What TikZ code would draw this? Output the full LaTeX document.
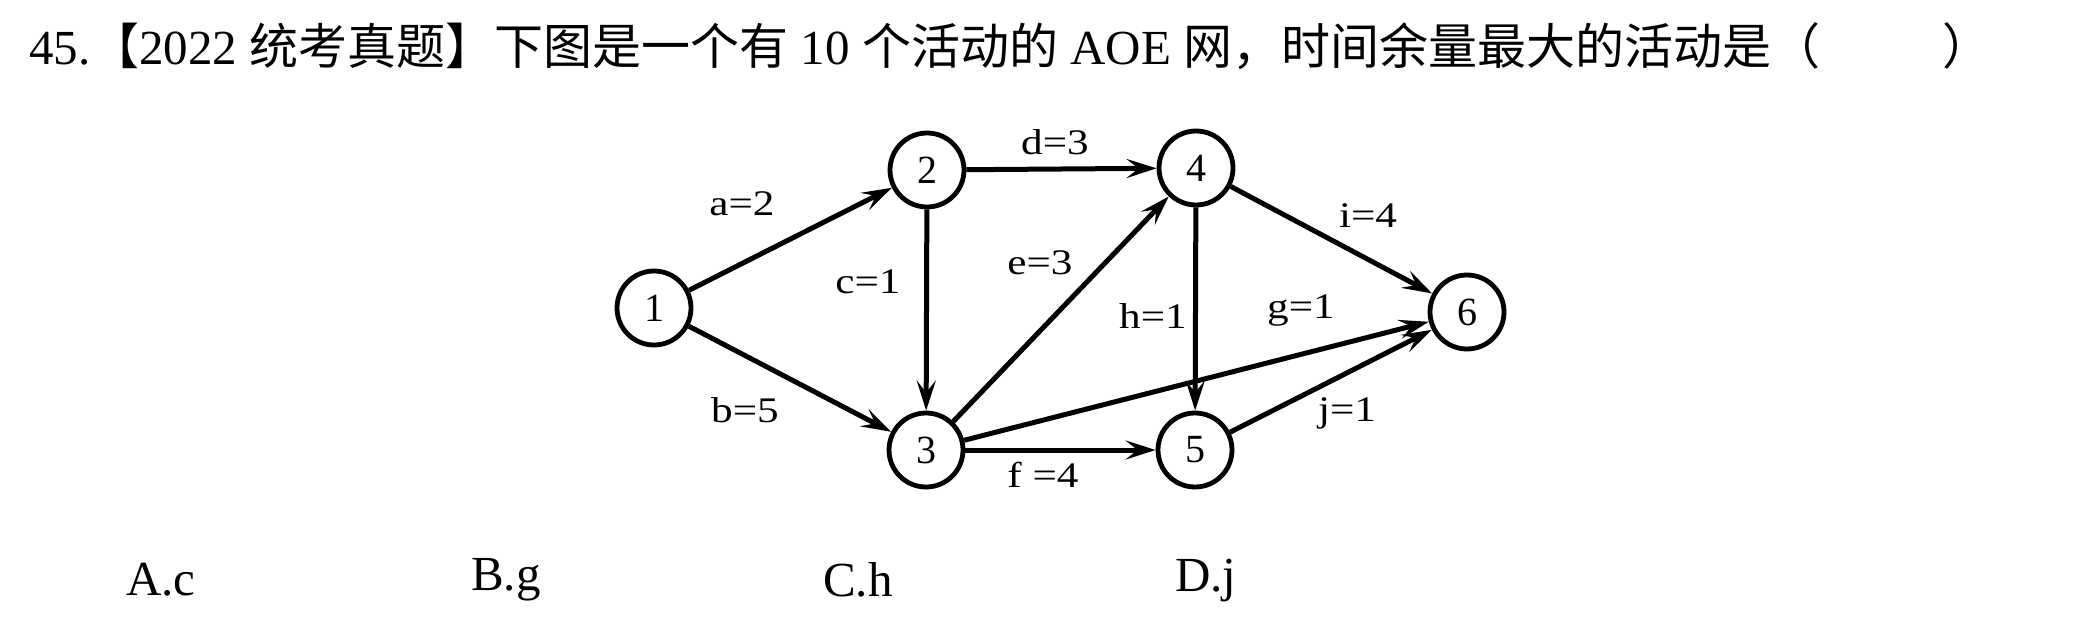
\documentclass[tikz,border=0pt]{standalone}
\usepackage{fontspec}
\usepackage{graphicx}
\setmainfont{Liberation Serif}
\newfontfamily\cjk{Noto Sans CJK SC}
\usetikzlibrary{arrows.meta}
\newcommand\widetxt[1]{\scalebox{1.2}[1]{#1}}
\begin{document}
\begin{tikzpicture}[x=1pt,y=-1pt,
  vert/.style={circle,draw,line width=4.8pt,minimum size=74pt,inner sep=0pt,font=\fontsize{40}{40}\selectfont},
  edge/.style={line width=5pt,-{Stealth[length=30pt,width=19pt,inset=12pt]}},
  lab/.style={font=\fontsize{36}{36}\selectfont,inner sep=0pt},
  txt/.style={font=\fontsize{49}{49}\selectfont,inner sep=0pt,anchor=west}]
\useasboundingbox (0,0) rectangle (2081,623);
\node[txt] (title) at (29,46) {45.{\cjk 【}2022 {\cjk 统考真题】下图是一个有} 10 {\cjk 个活动的} AOE {\cjk 网，时间余量最大的活动是（}\hspace{2.5em}{\cjk ）}};
\node[vert] (n1) at (654,308) {1};
\node[vert] (n2) at (927,170) {2};
\node[vert] (n3) at (926,450) {3};
\node[vert] (n4) at (1196,168) {4};
\node[vert] (n5) at (1195,450) {5};
\node[vert] (n6) at (1467,312) {6};
\draw[edge] (n1) -- (n2);
\draw[edge] (n1) -- (n3);
\draw[edge] (n2) -- (n3);
\draw[edge] (n2) -- (n4);
\draw[edge] (n3) -- (n4);
\draw[edge] (n3) -- (n5);
\draw[edge] (n3) -- (n6);
\draw[edge] (n4) -- (n5);
\draw[edge] (n4) -- (n6);
\draw[edge] (n5) -- (n6);
\node[lab] (la) at (742,204) {\widetxt{a=2}};
\node[lab] (lb) at (745,410) {\widetxt{b=5}};
\node[lab] (lc) at (868,282) {\widetxt{c=1}};
\node[lab] (ld) at (1055,142) {\widetxt{d=3}};
\node[lab] (le) at (1040,263) {\widetxt{e=3}};
\node[lab] (lf) at (1043,475) {\widetxt{f =4}};
\node[lab] (lg) at (1301,311) {\widetxt{g=1}};
\node[lab] (lh) at (1153,316) {\widetxt{h=1}};
\node[lab] (li) at (1368,216) {\widetxt{i=4}};
\node[lab] (lj) at (1347,413) {\widetxt{j=1}};
\node[txt] (oA) at (126,580) {A.c};
\node[txt] (oB) at (471,580) {B.g};
\node[txt] (oC) at (823,580) {C.h};
\node[txt] (oD) at (1175,580) {D.j};
\end{tikzpicture}
\end{document}
